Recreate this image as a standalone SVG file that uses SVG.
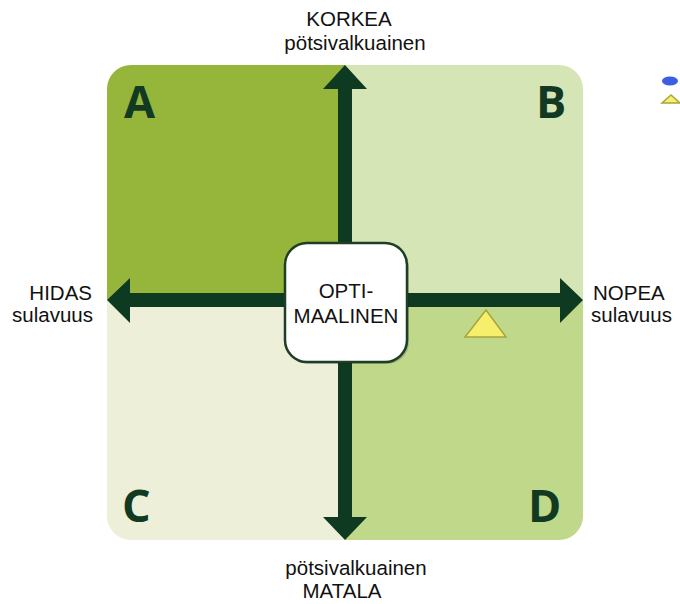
<svg xmlns="http://www.w3.org/2000/svg" width="680" height="604" viewBox="0 0 680 604">
  <style>
    .lbl { font-family: "Liberation Sans", Arial, sans-serif; font-size: 20.5px; fill: #111; }
    .q { font-family: "Open Sans", "DejaVu Sans", sans-serif; font-weight: 700; font-size: 45px; fill: #123a22; }
    .ax { fill: #0f3a22; }
    .tri { fill: #f6ef6c; stroke: #a7a53c; stroke-width: 1.5; }
  </style>
  <defs>
    <clipPath id="sq">
      <rect x="107" y="65" width="476" height="475" rx="24" ry="24"/>
    </clipPath>
  </defs>
  <g id="quadrants" clip-path="url(#sq)">
    <g id="qA"><rect x="107" y="65" width="238" height="235" fill="#95b53b"/></g>
    <g id="qB"><rect x="345" y="65" width="238" height="235" fill="#d6e5b6"/></g>
    <g id="qC"><rect x="107" y="300" width="238" height="240" fill="#edefd9"/></g>
    <g id="qD"><rect x="345" y="300" width="238" height="240" fill="#bfd88a"/></g>
  </g>
  <text class="q" x="124" y="118">A</text>
  <text class="q" x="536" y="118">B</text>
  <text class="q" x="122" y="522">C</text>
  <text class="q" x="528" y="522">D</text>
  <g id="connectors">
    <polygon class="ax" points="345,65 367,89 352,89 352,517 367,517 345,540 323,517 338,517 338,89 323,89"/>
    <polygon class="ax" points="107,300 130,278 130,293 560,293 560,278 583,300 560,323 560,307 130,307 130,323"/>
  </g>
  <g id="optimal">
    <rect x="287" y="245" width="122" height="119" rx="22" ry="22" fill="#000" opacity="0.18"/>
    <rect x="285" y="243" width="122" height="119" rx="22" ry="22" fill="#ffffff" stroke="#1e3f26" stroke-width="2.5"/>
    <text class="lbl" x="346" y="298" text-anchor="middle">OPTI-</text>
    <text class="lbl" x="346" y="323" text-anchor="middle">MAALINEN</text>
  </g>
  <g id="marker-triangle">
    <polygon class="tri" points="486,310 465,337 506,337"/>
  </g>
  <g id="legend">
    <ellipse cx="670" cy="81" rx="8" ry="4.5" fill="#3a5fe0"/>
    <polygon class="tri" points="671,95 662,103 680,103"/>
  </g>
  <g id="top-label">
    <text class="lbl" x="349" y="26" text-anchor="middle">KORKEA</text>
    <text class="lbl" x="355" y="50" text-anchor="middle">pötsivalkuainen</text>
  </g>
  <g id="bottom-label">
    <text class="lbl" x="356" y="575" text-anchor="middle">pötsivalkuainen</text>
    <text class="lbl" x="342" y="598" text-anchor="middle">MATALA</text>
  </g>
  <g id="left-label">
    <text class="lbl" x="92" y="300" text-anchor="end">HIDAS</text>
    <text class="lbl" x="93" y="322" text-anchor="end">sulavuus</text>
  </g>
  <g id="right-label">
    <text class="lbl" x="593" y="300">NOPEA</text>
    <text class="lbl" x="591" y="322">sulavuus</text>
  </g>
</svg>
